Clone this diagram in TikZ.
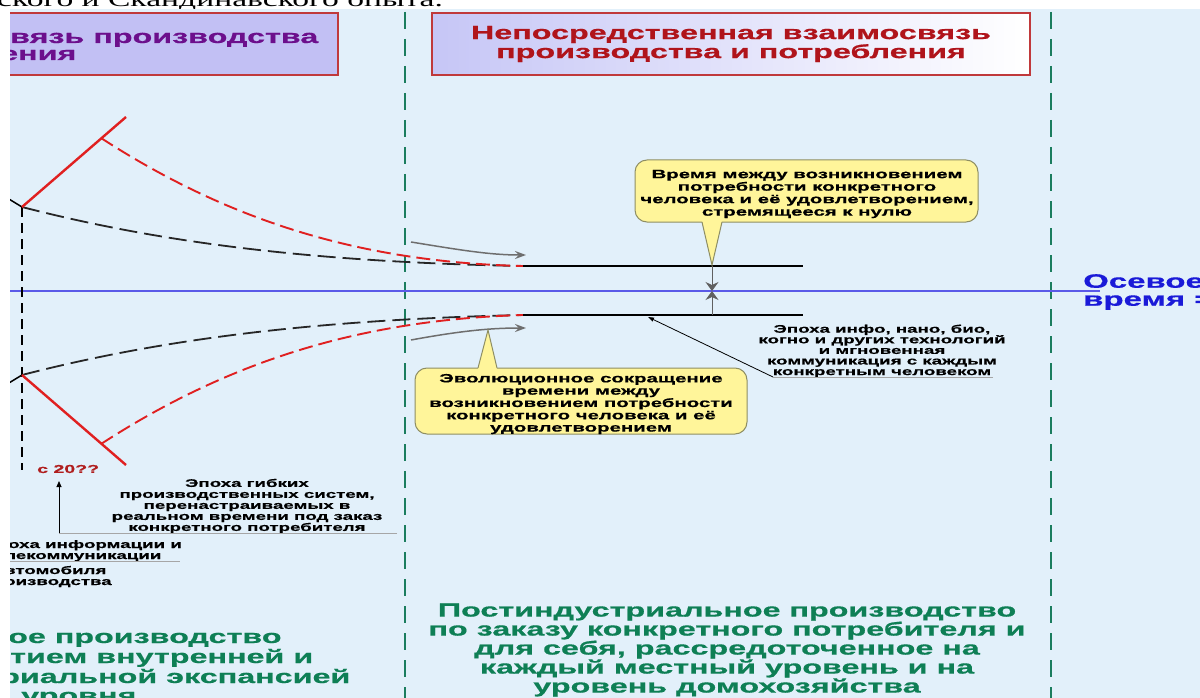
\documentclass[tikz,border=0pt]{standalone}
\usepackage{fontspec}
\usetikzlibrary{arrows.meta}
\newfontfamily\wb{Liberation Sans Bold}[FakeStretch=1.7,FakeBold=0.6]
\newfontfamily\ser{Liberation Serif}[FakeStretch=1.6]
\definecolor{bgblue}{HTML}{E2F0FA}
\definecolor{lav}{HTML}{C2C0F4}
\definecolor{lavB}{HTML}{C6C6F6}
\definecolor{boxred}{HTML}{C0393B}
\definecolor{purp}{HTML}{6C0F8C}
\definecolor{titred}{HTML}{B0141B}
\definecolor{greentxt}{HTML}{0E7F55}
\definecolor{greendash}{HTML}{1B7D5E}
\definecolor{axisblue}{HTML}{5A5AE8}
\definecolor{osblue}{HTML}{1A1AD8}
\definecolor{redline}{HTML}{E02020}
\definecolor{darkred}{HTML}{B01E1E}
\definecolor{callfill}{HTML}{FFF59A}
\definecolor{calldraw}{HTML}{8E8E63}
\definecolor{grayarr}{HTML}{6E6E6E}
\tikzset{
  gdash/.style={draw=greendash, line width=2.6pt, dash pattern=on 17pt off 10pt},
  bdash/.style={draw=black!85, line width=1.8pt, dash pattern=on 18pt off 7pt},
  vdash/.style={draw=black, line width=1.4pt, dash pattern=on 10pt off 6pt},
  rdash/.style={draw=redline, line width=1.9pt, dash pattern=on 14pt off 6pt},
  rsolid/.style={draw=redline, line width=2.4pt},
  hline/.style={draw=black, line width=1.5pt},
  grarrow/.style={draw=grayarr, line width=1.5pt, -{Stealth[length=11pt,width=8pt,inset=4pt]}, grayarr},
  leader/.style={draw=gray!70, line width=0.8pt},
  callbox/.style={fill=callfill, draw=calldraw, line width=1pt, rounded corners=12pt},
  bigtxt/.style={inner sep=0pt, font=\wb\fontsize{19}{19}\selectfont},
  midtxt/.style={inner sep=0pt, align=center, font=\wb\fontsize{12}{12.5}\selectfont},
  smtxt/.style={inner sep=0pt, align=center, font=\wb\fontsize{11}{11}\selectfont},
}
\begin{document}
\begin{tikzpicture}[x=1pt,y=-1pt]
\useasboundingbox (0,0) rectangle (1200,698);
\clip (0,0) rectangle (1200,698);
\fill[white] (0,0) rectangle (1200,698);
\node[anchor=base west, inner sep=0pt, font=\ser\fontsize{21}{21}\selectfont] (toptext) at (-3,7) {ского и Скандинавского опыта.};
\fill[bgblue] (10,9) rectangle (1200,698);
\begin{scope}
\clip (10,9) rectangle (1200,698);
% header boxes
\filldraw[fill=lav, draw=boxred, line width=1.2pt] (2,13) rectangle (338,75);
\node[bigtxt, anchor=base west, text=purp] (lt1) at (10,43) {вязь производства};
\node[bigtxt, anchor=base west, text=purp] (lt2) at (0,60) {ения};
\shade[left color=lavB, right color=white] (432,13) rectangle (1030,75);
\draw[draw=boxred, line width=1.2pt] (432,13) rectangle (1030,75);
\node[bigtxt, align=center, text=titred] (rt) at (731,44) {Непосредственная взаимосвязь\\производства и потребления};
% green dashed separators
\coordinate (g1t) at (405,12); \coordinate (g1b) at (405,700);
\coordinate (g2t) at (1051,12); \coordinate (g2b) at (1051,700);
\draw[gdash] (g1t) -- (g1b);
\draw[gdash] (g2t) -- (g2b);
% axis
\coordinate (ax0) at (5,291); \coordinate (ax1) at (1100,291);
\draw[axisblue, line width=1.5pt] (ax0) -- (ax1);
% key points
\coordinate (uv) at (22,207); \coordinate (lv) at (22,375);
\coordinate (ur) at (126,117); \coordinate (lr) at (126,465);
\coordinate (urs) at (101,138); \coordinate (lrs) at (101,444);
\coordinate (um) at (523,266); \coordinate (lm) at (523,315);
\coordinate (ue) at (803,266); \coordinate (le) at (803,315);
\coordinate (ul) at (4,196); \coordinate (ll) at (4,386);
\coordinate (vb) at (22,470);
% curves
\draw[hline] (ul) -- (uv);
\draw[hline] (ll) -- (lv);
\draw[vdash] (uv) -- (vb);
\draw[bdash] (uv) .. controls (150,240) and (300,262) .. (um);
\draw[bdash] (lv) .. controls (150,342) and (300,320) .. (lm);
\draw[rdash] (urs) .. controls (220,215) and (350,262) .. (um);
\draw[rdash] (lrs) .. controls (220,367) and (350,320) .. (lm);
\draw[rsolid] (uv) -- (ur);
\draw[rsolid] (lv) -- (lr);
\draw[hline] (um) -- (ue);
\draw[hline] (lm) -- (le);
% gray arrows
\coordinate (a1s) at (411,242); \coordinate (a1e) at (526,255);
\coordinate (a2s) at (411,340); \coordinate (a2e) at (526,328);
\draw[grarrow] (a1s) .. controls (460,250) and (490,255) .. (a1e);
\draw[grarrow] (a2s) .. controls (460,331) and (490,328) .. (a2e);
% double arrows at axis
\coordinate (dt) at (712,266); \coordinate (dm) at (712,291); \coordinate (db) at (712,315);
\draw[draw=gray!75!black, line width=1pt, -{Stealth[length=9pt,width=13pt,inset=3pt]}, gray!75!black] (dt) -- (dm);
\draw[draw=gray!75!black, line width=1pt, -{Stealth[length=9pt,width=13pt,inset=3pt]}, gray!75!black] (db) -- (dm);
% upper callout
\filldraw[callbox] (635,160) rectangle (978,222);
\fill[callfill] (702,221) -- (712,265) -- (722,221) -- cycle;
\draw[draw=calldraw, line width=1pt] (702,222) -- (712,265) -- (722,222);
\node[midtxt] (c1) at (807,194) {Время между возникновением\\потребности конкретного\\человека и её удовлетворением,\\стремящееся к нулю};
% lower callout
\filldraw[callbox] (415,368) rectangle (747,434);
\fill[callfill] (478,369) -- (488,330) -- (497,369) -- cycle;
\draw[draw=calldraw, line width=1pt] (478,368) -- (488,330) -- (497,368);
\node[midtxt, font=\wb\fontsize{12}{12.3}\selectfont] (c2) at (581,404) {Эволюционное сокращение\\времени между\\возникновением потребности\\конкретного человека и её\\удовлетворением};
% right annotation
\node[smtxt, font=\wb\fontsize{11}{10.6}\selectfont] (ri) at (882,351) {Эпоха инфо, нано, био,\\когно и других технологий\\и мгновенная\\коммуникация с каждым\\конкретным человеком};
\coordinate (ri1) at (993,377); \coordinate (ri0) at (773,377); \coordinate (ritip) at (648,317);
\draw[leader] (ri1) -- (ri0);
\draw[leader, -{Triangle[length=6pt,width=4pt]}, black] (ri0) -- (ritip);
% axial time
\node[anchor=north west, inner sep=0pt, align=left, text=osblue, font=\wb\fontsize{19.4}{18}\selectfont] (os) at (1083,274) {Осевое\\время =};
% left-bottom labels
\node[anchor=west, inner sep=0pt, text=darkred, font=\wb\fontsize{11.5}{11}\selectfont] (c20) at (37,469) {с 20??};
\node[smtxt] (gib) at (247,506) {Эпоха гибких\\производственных систем,\\перенастраиваемых в\\реальном времени под заказ\\конкретного потребителя};
\coordinate (g0) at (397,533); \coordinate (g1) at (59,533); \coordinate (gtip) at (59,481);
\draw[leader] (g0) -- (g1);
\draw[draw=gray!70, line width=0.8pt, -{Triangle[length=6pt,width=5pt]}, black] (g1) -- (gtip);
\node[anchor=base west, inner sep=0pt, font=\wb\fontsize{11}{11}\selectfont] (inf1) at (8,548) {оха информации и};
\node[anchor=base west, inner sep=0pt, font=\wb\fontsize{11}{11}\selectfont] (inf2) at (4,559) {лекоммуникации};
\coordinate (iu0) at (10,561); \coordinate (iu1) at (180,561);
\draw[leader] (iu0) -- (iu1);
\node[anchor=base west, inner sep=0pt, font=\wb\fontsize{11}{11}\selectfont] (av1) at (4,574) {втомобиля};
\node[anchor=base west, inner sep=0pt, font=\wb\fontsize{11}{11}\selectfont] (av2) at (4,585) {оизводства};
% bottom green texts
\node[bigtxt, anchor=base west, text=greentxt] (gl1) at (8,643) {ое производство};
\node[bigtxt, anchor=base west, text=greentxt] (gl2) at (10,663) {тием внутренней и};
\node[bigtxt, anchor=base west, text=greentxt] (gl3) at (0,683) {риальной экспансией};
\node[bigtxt, anchor=base west, text=greentxt] (gl4) at (21,702) {уровня};
\node[bigtxt, align=center, text=greentxt, font=\wb\fontsize{19}{19}\selectfont] (gc) at (727,650) {Постиндустриальное производство\\по заказу конкретного потребителя и\\для себя, рассредоточенное на\\каждый местный уровень и на\\уровень домохозяйства};
\end{scope}
\end{tikzpicture}
\end{document}
